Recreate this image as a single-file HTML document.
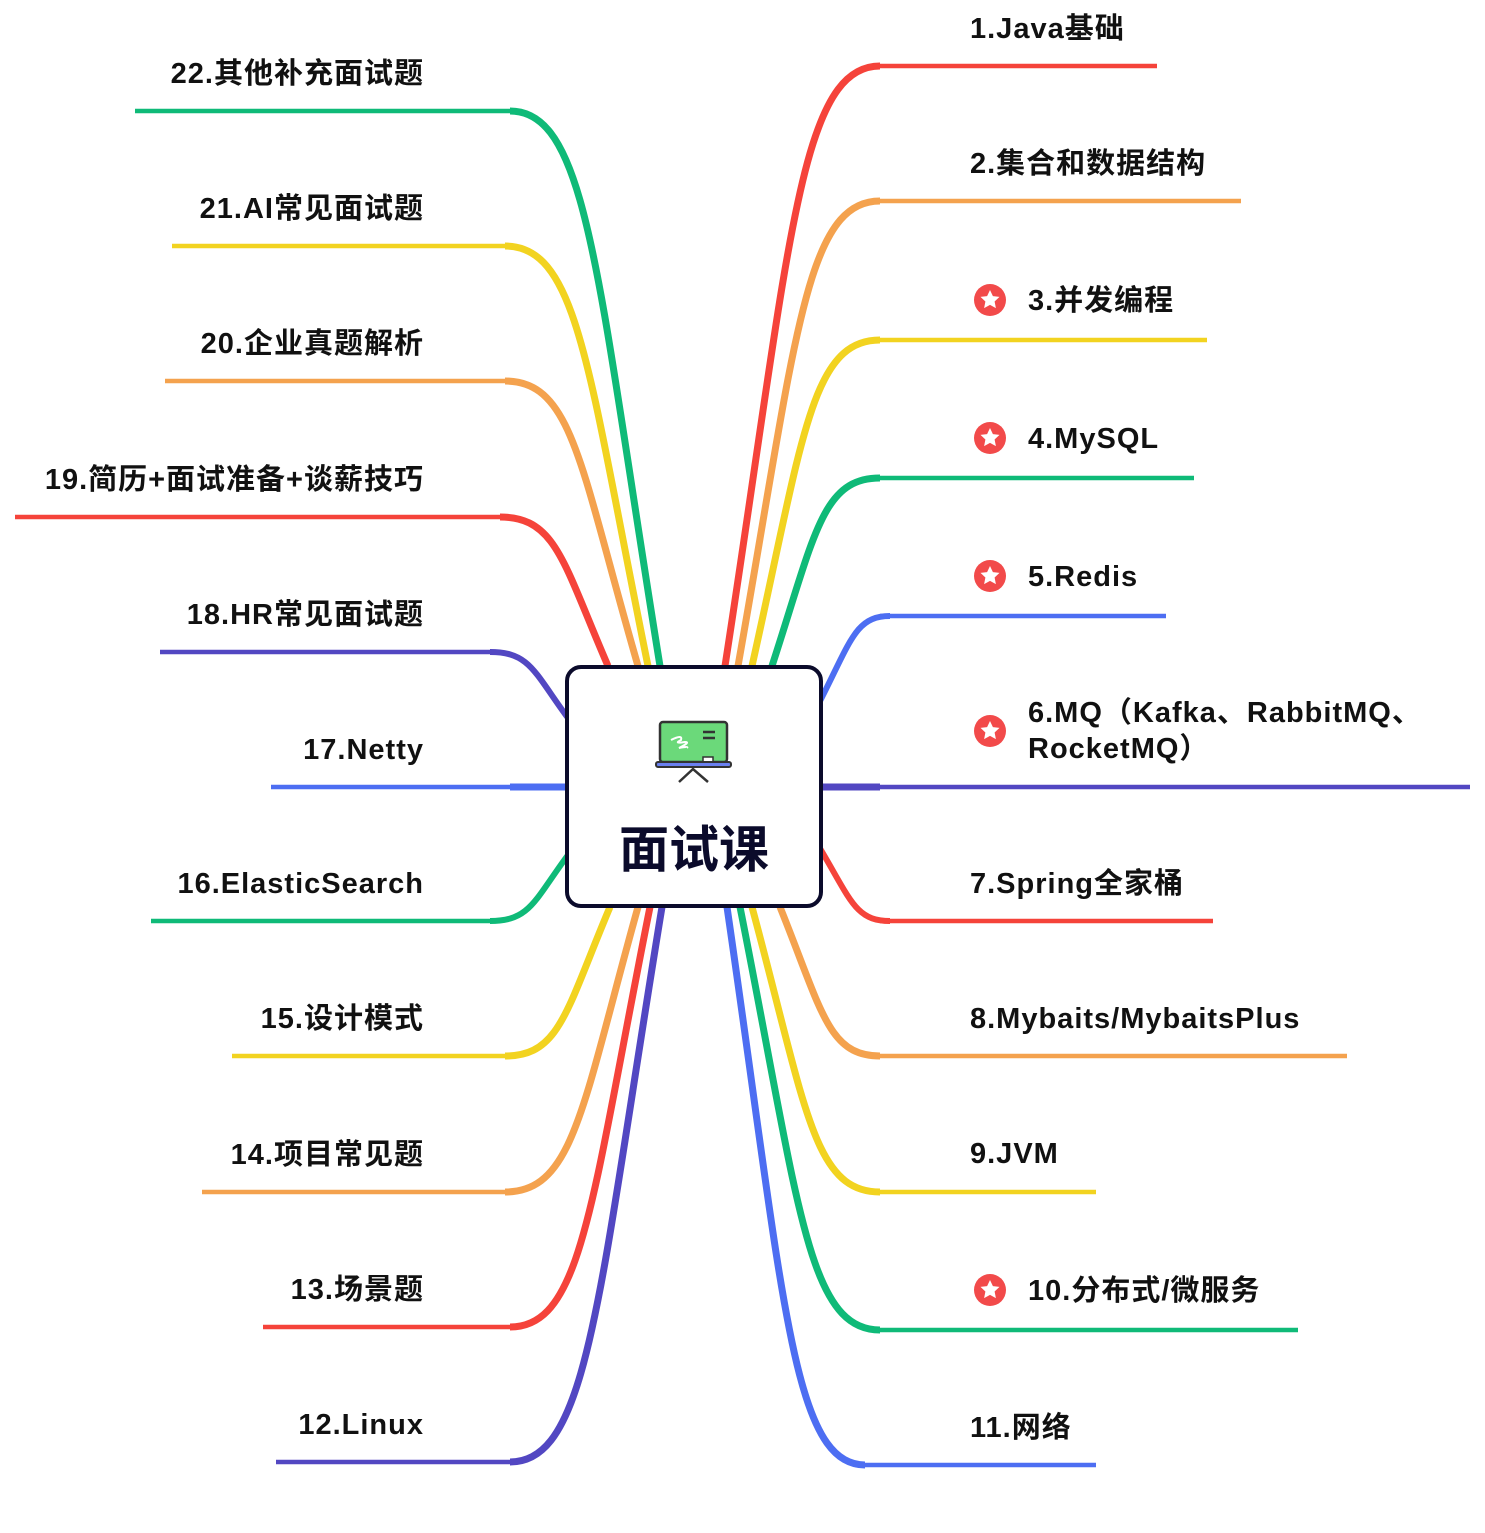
<!DOCTYPE html>
<html><head><meta charset="utf-8"><style>
html,body{margin:0;padding:0;background:#fff}
svg{display:block}
text{font-family:"Liberation Sans","Noto Sans CJK SC",sans-serif;font-size:29px;font-weight:bold;fill:#111;letter-spacing:1px}
</style></head><body>
<svg width="1485" height="1533" viewBox="0 0 1485 1533" xmlns="http://www.w3.org/2000/svg">
<defs>
<g id="star"><circle r="16" fill="#f24a4a"/><path d="M0,-10 L2.9,-3.9 9.5,-3.1 4.6,1.5 5.9,8.1 0,4.9 -5.9,8.1 -4.6,1.5 -9.5,-3.1 -2.9,-3.9Z" fill="#fff"/></g>
</defs>
<g fill="none" stroke-linecap="butt">
<!-- right -->
<path d="M725,666 C790,246 799,66 880,66" stroke="#f5433a" stroke-width="7"/><path d="M870,66 H1157" stroke="#f5433a" stroke-width="4.5"/>
<path d="M738,666 C796,340 805,201 880,201" stroke="#f4a24e" stroke-width="7"/><path d="M870,201 H1241" stroke="#f4a24e" stroke-width="4.5"/>
<path d="M752,666 C803,438 811,340 880,340" stroke="#f2d320" stroke-width="7"/><path d="M870,340 H1207" stroke="#f2d320" stroke-width="4.5"/>
<path d="M772,666 C815,534 822,478 880,478" stroke="#0fba78" stroke-width="7"/><path d="M870,478 H1194" stroke="#0fba78" stroke-width="4.5"/>
<path d="M818,705 C851,641 855,616 890,616" stroke="#4d6ef2" stroke-width="6"/><path d="M880,616 H1166" stroke="#4d6ef2" stroke-width="4.5"/>
<path d="M820,787 H1470" stroke="#5247c2" stroke-width="4.5"/><path d="M820,787 H880" stroke="#5247c2" stroke-width="7"/>
<path d="M818,845 C851,900 855,921 890,921" stroke="#f5433a" stroke-width="6"/><path d="M880,921 H1213" stroke="#f5433a" stroke-width="4.5"/>
<path d="M780,907 C822,1011 828,1056 880,1056" stroke="#f4a24e" stroke-width="7"/><path d="M870,1056 H1347" stroke="#f4a24e" stroke-width="4.5"/>
<path d="M752,907 C806,1107 813,1192 880,1192" stroke="#f2d320" stroke-width="7"/><path d="M870,1192 H1096" stroke="#f2d320" stroke-width="4.5"/>
<path d="M740,907 C799,1203 807,1330 880,1330" stroke="#0fba78" stroke-width="7"/><path d="M870,1330 H1298" stroke="#0fba78" stroke-width="4.5"/>
<path d="M727,907 C784,1298 792,1465 865,1465" stroke="#4d6ef2" stroke-width="7"/><path d="M855,1465 H1096" stroke="#4d6ef2" stroke-width="4.5"/>
<!-- left -->
<path d="M660,666 C597,278 588,111 510,111" stroke="#0fba78" stroke-width="7"/><path d="M520,111 H135" stroke="#0fba78" stroke-width="4.5"/>
<path d="M648,666 C588,372 579,246 505,246" stroke="#f2d320" stroke-width="7"/><path d="M515,246 H172" stroke="#f2d320" stroke-width="4.5"/>
<path d="M638,666 C580,466 573,381 505,381" stroke="#f4a24e" stroke-width="7"/><path d="M515,381 H165" stroke="#f4a24e" stroke-width="4.5"/>
<path d="M608,666 C563,562 556,517 500,517" stroke="#f5433a" stroke-width="7"/><path d="M510,517 H15" stroke="#f5433a" stroke-width="4.5"/>
<path d="M568,718 C534,672 530,652 490,652" stroke="#5247c2" stroke-width="6"/><path d="M500,652 H160" stroke="#5247c2" stroke-width="4.5"/>
<path d="M570,787 H271" stroke="#4d6ef2" stroke-width="4.5"/><path d="M570,787 H510" stroke="#4d6ef2" stroke-width="7"/>
<path d="M568,855 C534,901 530,921 490,921" stroke="#0fba78" stroke-width="6"/><path d="M500,921 H151" stroke="#0fba78" stroke-width="4.5"/>
<path d="M610,907 C566,1011 560,1056 505,1056" stroke="#f2d320" stroke-width="7"/><path d="M515,1056 H232" stroke="#f2d320" stroke-width="4.5"/>
<path d="M638,907 C582,1107 574,1192 505,1192" stroke="#f4a24e" stroke-width="7"/><path d="M515,1192 H202" stroke="#f4a24e" stroke-width="4.5"/>
<path d="M650,907 C591,1201 583,1327 510,1327" stroke="#f5433a" stroke-width="7"/><path d="M520,1327 H263" stroke="#f5433a" stroke-width="4.5"/>
<path d="M662,907 C598,1296 589,1462 510,1462" stroke="#5247c2" stroke-width="7"/><path d="M520,1462 H276" stroke="#5247c2" stroke-width="4.5"/>
</g>
<!-- center box -->
<rect x="567" y="667" width="254" height="239" rx="14" fill="#fff" stroke="#0b0b2b" stroke-width="4"/>
<g>
<rect x="660" y="722" width="67" height="40" rx="3" fill="#6bd97a" stroke="#333" stroke-width="2.5"/>
<path d="M671,740 q12,-6 10,0 q-8,4 4,2 q6,0 -6,6 q10,-2 8,0" fill="none" stroke="#fff" stroke-width="2"/>
<path d="M703,732 h12 M703,738 h12" stroke="#333" stroke-width="2.5"/>
<rect x="703" y="757" width="10" height="5" fill="#fff" stroke="#333" stroke-width="1.5"/>
<rect x="656" y="762" width="75" height="5" rx="2" fill="#6a80f0" stroke="#333" stroke-width="2"/>
<path d="M679,782 L693,769 L708,782" fill="none" stroke="#333" stroke-width="2.5"/>
</g>
<text x="694" y="867" text-anchor="middle" style="font-size:50px;fill:#0b0b2b;letter-spacing:0">面试课</text>
<!-- right labels -->
<text x="970" y="38">1.Java基础</text>
<text x="970" y="173">2.集合和数据结构</text>
<use href="#star" x="990" y="300"/><text x="1028" y="310">3.并发编程</text>
<use href="#star" x="990" y="438"/><text x="1028" y="448">4.MySQL</text>
<use href="#star" x="990" y="576"/><text x="1028" y="586">5.Redis</text>
<use href="#star" x="990" y="731"/><text x="1028" y="722">6.MQ（Kafka、RabbitMQ、</text><text x="1028" y="758">RocketMQ）</text>
<text x="970" y="893">7.Spring全家桶</text>
<text x="970" y="1028">8.Mybaits/MybaitsPlus</text>
<text x="970" y="1163">9.JVM</text>
<use href="#star" x="990" y="1290"/><text x="1028" y="1300">10.分布式/微服务</text>
<text x="970" y="1437">11.网络</text>
<!-- left labels -->
<g text-anchor="end">
<text x="424" y="83">22.其他补充面试题</text>
<text x="424" y="218">21.AI常见面试题</text>
<text x="424" y="353">20.企业真题解析</text>
<text x="424" y="489">19.简历+面试准备+谈薪技巧</text>
<text x="424" y="624">18.HR常见面试题</text>
<text x="424" y="759">17.Netty</text>
<text x="424" y="893">16.ElasticSearch</text>
<text x="424" y="1028">15.设计模式</text>
<text x="424" y="1164">14.项目常见题</text>
<text x="424" y="1299">13.场景题</text>
<text x="424" y="1434">12.Linux</text>
</g>
</svg>
</body></html>
